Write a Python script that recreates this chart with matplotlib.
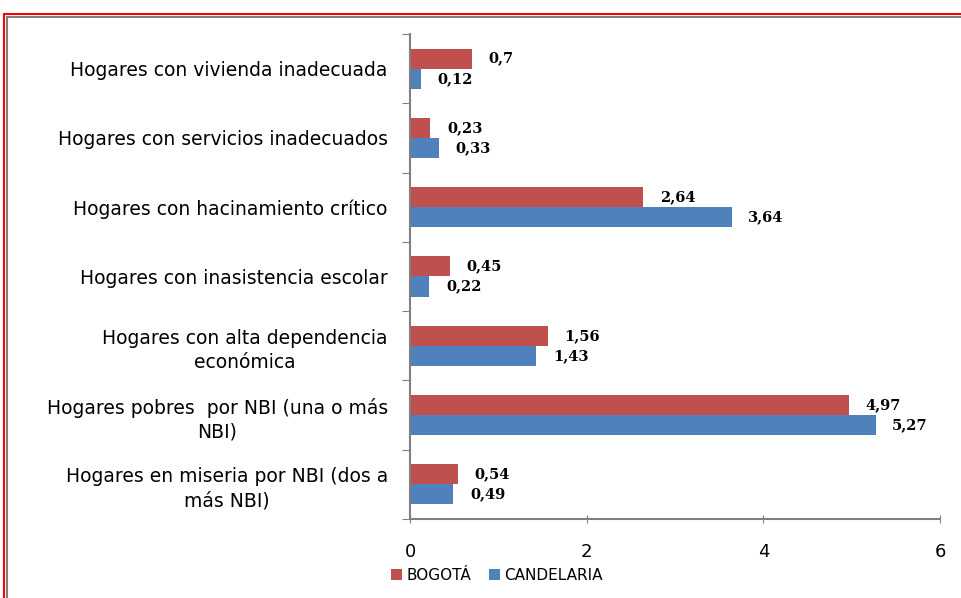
import matplotlib
matplotlib.use('Agg')
import matplotlib.pyplot as plt
from matplotlib.patches import Rectangle
import numpy as np

# datos (de arriba hacia abajo)
categorias = [
    'Hogares con vivienda inadecuada',
    'Hogares con servicios inadecuados',
    'Hogares con hacinamiento crítico',
    'Hogares con inasistencia escolar',
    'Hogares con alta dependencia\neconómica',
    'Hogares pobres  por NBI (una o más\nNBI)',
    'Hogares en miseria por NBI (dos a\nmás NBI)',
]
bogota = [0.7, 0.23, 2.64, 0.45, 1.56, 4.97, 0.54]
candelaria = [0.12, 0.33, 3.64, 0.22, 1.43, 5.27, 0.49]
etiquetas_bog = ['0,7', '0,23', '2,64', '0,45', '1,56', '4,97', '0,54']
etiquetas_can = ['0,12', '0,33', '3,64', '0,22', '1,43', '5,27', '0,49']
ticks_x = [0, 2, 4, 6]

rojo = '#C0504D'
azul = '#4F81BD'

fig = plt.figure(figsize=(9.62, 5.98), dpi=100)

# marco rojo/gris de la figura
fig.patches.append(Rectangle((4/962, -0.1), 1.2, (598-14)/598 + 0.1, transform=fig.transFigure,
                             fill=False, edgecolor='red', linewidth=1.5, clip_on=False))
fig.patches.append(Rectangle((7/962, -0.1), 1.2, (598-17)/598 + 0.1, transform=fig.transFigure,
                             fill=False, edgecolor='#808080', linewidth=1.5, clip_on=False))

ax = fig.add_axes([410/962, 79/598, 530/962, 485/598])

n = len(categorias)
y = np.arange(n)
h = 0.29
ax.barh(y - h/2, bogota, height=h, color=rojo, label='BOGOTÁ')
ax.barh(y + h/2, candelaria, height=h, color=azul, label='CANDELARIA')

for i in range(n):
    ax.annotate(etiquetas_bog[i], (bogota[i], y[i] - h/2), xytext=(12, 0), textcoords='offset points',
                va='center', ha='left', fontsize=10.5, family='DejaVu Serif', fontweight='bold')
    ax.annotate(etiquetas_can[i], (candelaria[i], y[i] + h/2), xytext=(12, 0), textcoords='offset points',
                va='center', ha='left', fontsize=10.5, family='DejaVu Serif', fontweight='bold')

ax.set_ylim(n - 0.5, -0.5)
ax.set_xlim(0, 6)
ax.set_xticks(ticks_x)
ax.set_xticklabels([str(t) for t in ticks_x], fontsize=13)
ax.set_yticks(np.arange(-0.5, n, 1), minor=False)
ax.set_yticklabels([])
ax.set_yticks(y, minor=True)
ax.set_yticklabels(categorias, minor=True, fontsize=13.5, multialignment='center', linespacing=1.35)
ax.tick_params(axis='y', which='minor', length=0, pad=16)
ax.tick_params(axis='y', which='major', length=6, color='#808080', direction='out')
ax.tick_params(axis='x', length=6, color='#808080', direction='inout', pad=14)

for s in ['top', 'right']:
    ax.spines[s].set_visible(False)
ax.spines['left'].set_color('#808080')
ax.spines['bottom'].set_color('#808080')
ax.spines['left'].set_linewidth(1.5)
ax.spines['bottom'].set_linewidth(1.5)

fig.legend(loc='center', bbox_to_anchor=(497/962, 23/598), ncol=2, frameon=False,
           fontsize=11, handlelength=0.7, handleheight=0.7, handletextpad=0.3, columnspacing=1.2)

fig.savefig('out.png', dpi=100)
